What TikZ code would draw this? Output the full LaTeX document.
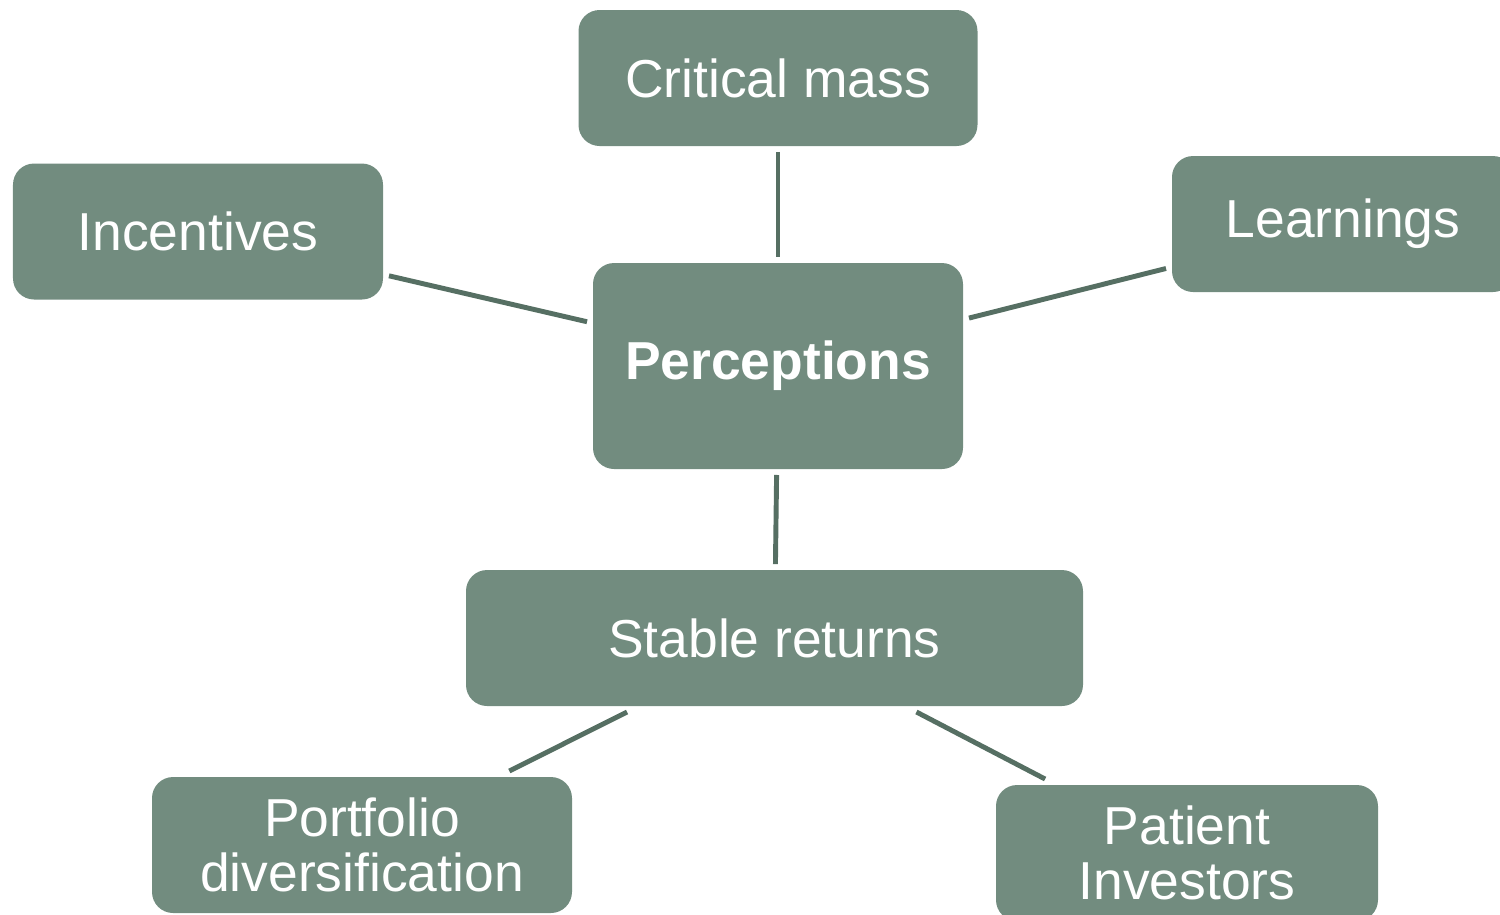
\documentclass[tikz,border=0pt]{standalone}
\usepackage{fontspec}
\setmainfont{Liberation Sans}
\usetikzlibrary{positioning}
\definecolor{boxgreen}{HTML}{728C7F}
\definecolor{linkgreen}{HTML}{566F63}

\begin{document}
\begin{tikzpicture}[on grid, main/.style = {fill=boxgreen, rounded corners=6pt, text=white, align=center, inner sep=0pt, outer sep=1.7pt, minimum height=1.36cm, font=\fontsize{15.2}{15.8}\selectfont}, link/.style = {draw=linkgreen, line width=1.4pt}]
\clip (0,0) rectangle (15,-9.14);
\node[main, minimum width=3.7cm, minimum height=2.06cm, font=\fontsize{15.2}{15.8}\selectfont\bfseries] (perc) at (7.78,-3.66) {Perceptions};
\node[main, minimum width=3.99cm] (crit) [above=2.88cm of perc] {Critical mass};
\node[main, minimum width=3.7cm] (inc) [above left=1.345cm and 5.8cm of perc] {Incentives};
\node[main, minimum width=3.42cm] (learn) [above right=1.42cm and 5.65cm of perc] {Learnings};
\node[main, minimum width=6.17cm] (stable) [below=2.72cm of perc, xshift=-0.35mm] {Stable returns};
\node[main, minimum width=4.2cm] (port) [below left=2.07cm and 4.125cm of stable] {Portfolio\\diversification};
\node[main, minimum width=3.82cm] (pat) [below right=2.15cm and 4.125cm of stable] {Patient\\Investors};

\draw[link] (crit) -- (perc);
\draw[link] (inc) -- (perc);
\draw[link] (learn) -- (perc);
\draw[link] (perc) -- (stable);
\draw[link] (stable) -- (port);
\draw[link] (stable) -- (pat);
\end{tikzpicture}
\end{document}
